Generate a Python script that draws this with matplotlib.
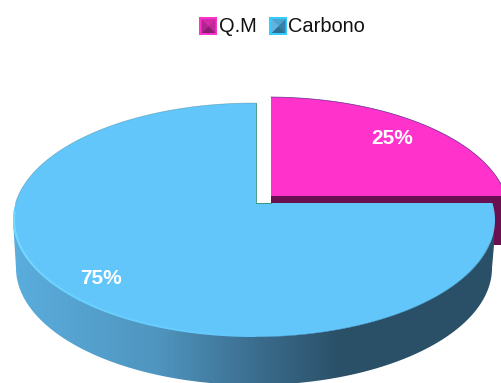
import numpy as np
import matplotlib
matplotlib.use("Agg")
import matplotlib.pyplot as plt
from matplotlib.colors import LinearSegmentedColormap
from matplotlib.patches import Polygon

plt.rcParams["font.family"] = ["Liberation Sans", "DejaVu Sans"]

# Chart data
categories = ["Q.M", "Carbono"]
shares = [25, 75]
top_colors = ["#ff33cc", "#62c6fb"]
side_colors = ["#6a0f50", "#4f9cc9"]
label_positions = [(392.5, 138), (100.5, 279)]

W, H = 501, 383
fig = plt.figure(figsize=(W / 100, H / 100), dpi=100)
ax = fig.add_axes([0, 0, 1, 1])
ax.set_xlim(0, W)
ax.set_ylim(H, 0)
ax.axis("off")

RX, RY = 241, 117
DEPTH = 48


def rim(cx, cy, ax_x, ax_y, start, sweep, n=240):
    """Points on the pie rim seen from an off-centre apex, sweeping anticlockwise."""
    ang = np.radians(start + np.linspace(0, sweep, n))
    ux, uy = np.cos(ang), np.sin(ang)
    px, py = (ax_x - cx) / RX, (cy - ax_y) / RY
    b = px * ux + py * uy
    t = -b + np.sqrt(b * b - (px * px + py * py - 1))
    return np.column_stack([cx + RX * (px + t * ux), cy - RY * (py + t * uy)])


# Slice centres and apexes: the smaller slice is pulled out to the upper right
blue_c = (254, 220)
blue_apex = (256, 203)
pink_c = (268, 214)
pink_apex = (271, 196)

small_sweep = 360 * shares[0] / sum(shares)
large_sweep = 360 * shares[1] / sum(shares)

# Extruded side of the pulled-out slice
pink_arc = rim(*pink_c, *pink_apex, 90 - small_sweep, small_sweep)
ax.add_patch(Polygon([(271, 196), (505, 196), (505, 245), (271, 245)],
                     fc=side_colors[0], ec="none", zorder=1))
ax.add_patch(Polygon(np.vstack([[pink_apex], pink_arc]), fc=top_colors[0],
                     ec="none", zorder=2))
ax.plot(pink_arc[:, 0], pink_arc[:, 1], color="#3a1a80", lw=0.5, alpha=0.8,
        zorder=2)

# Extruded side of the large slice, shaded from left to right
t = np.radians(np.linspace(180, 360, 200))
lower = np.column_stack([blue_c[0] + 238 * np.cos(t),
                         blue_c[1] + DEPTH - RY * np.sin(t)])
side_poly = Polygon(np.vstack([[(13, blue_c[1])], lower, [(494, 245), (494, blue_c[1])]]),
                    fc="none", ec="none", transform=ax.transData)
ax.add_patch(side_poly)
shade = LinearSegmentedColormap.from_list(
    "side", [(0, "#5aaddd"), (0.3, "#4f95bf"), (0.52, "#3a6a8a"),
             (0.68, "#2a5068"), (1, "#2a5068")])
im = ax.imshow(np.linspace(0, 1, 256)[None, :], cmap=shade, aspect="auto",
               extent=(13, 495, H, 190), zorder=3)
im.set_clip_path(side_poly)
ax.set_xlim(0, W)
ax.set_ylim(H, 0)

# Top face of the large slice
blue_arc = rim(*blue_c, *blue_apex, 90, large_sweep)
top_face = Polygon(np.vstack([[blue_apex], blue_arc]), fc=top_colors[1],
                   ec="none", zorder=4)
ax.add_patch(top_face)

# Soft edge on the shaded front, then a lighter rim that fades out to the right;
# both stay inside the top face
soft = rim(blue_c[0], blue_c[1] + 0.5, *blue_apex, 270, 70)
line, = ax.plot(soft[:, 0], soft[:, 1], color="#4a8fb4", lw=1.2, zorder=5)
line.set_clip_path(top_face)
front = rim(*blue_c, *blue_apex, 184, 90)
for i in range(0, len(front) - 4, 4):
    seg, = ax.plot(front[i:i + 5, 0], front[i:i + 5, 1], color="#78dcff", lw=3,
                   alpha=float(1 - i / len(front)), zorder=5, solid_capstyle="butt")
    seg.set_clip_path(top_face)

# Thin, slightly dark outline on the back edge and around the gap
back = rim(*blue_c, *blue_apex, 90, 90)
ax.plot(back[:, 0], back[:, 1], color="#2a6a70", lw=0.5, alpha=0.4, zorder=5)
ax.plot([256, 256, 271], [103, 203, 203], color="#2f8f6a", lw=0.6, zorder=5)

# Value labels
for share, (x, y) in zip(shares, label_positions):
    ax.text(x, y, f"{share}%", color="white", fontsize=15, fontweight="bold",
            ha="center", va="center", zorder=6)


def bevel_key(x0, y0, size, outer, shades):
    """Legend key: a square with four bevelled facets."""
    x1, y1 = x0 + size, y0 + size
    m = 2
    ax.add_patch(Polygon([(x0, y0), (x1, y0), (x1, y1), (x0, y1)], fc=outer,
                         ec="none", zorder=6))
    ix0, iy0, ix1, iy1 = x0 + m, y0 + m, x1 - m, y1 - m
    cx, cy = (ix0 + ix1) / 2, (iy0 + iy1) / 2
    facets = [[(ix0, iy0), (ix1, iy0), (cx, cy)],
              [(ix1, iy0), (ix1, iy1), (cx, cy)],
              [(ix1, iy1), (ix0, iy1), (cx, cy)],
              [(ix0, iy1), (ix0, iy0), (cx, cy)]]
    for facet, col in zip(facets, shades):
        ax.add_patch(Polygon(facet, fc=col, ec="none", zorder=7))


# Legend
legend_keys = [199.5, 269.5]
legend_text = [219, 288]
key_shades = [["#d42aa8", "#c0269a", "#8c1c70", "#b0248e"],
              ["#4fa3cf", "#3a7fa6", "#2e6f94", "#62b4dc"]]
key_outer = ["#ff33cc", "#33ccff"]
for kx, tx, name, outer, sh in zip(legend_keys, legend_text, categories,
                                   key_outer, key_shades):
    bevel_key(kx, 17, 18, outer, sh)
    ax.text(tx, 26, name, color="#111111", fontsize=14.4, ha="left",
            va="center", zorder=8)

fig.savefig("out.png", dpi=100, facecolor="white")
